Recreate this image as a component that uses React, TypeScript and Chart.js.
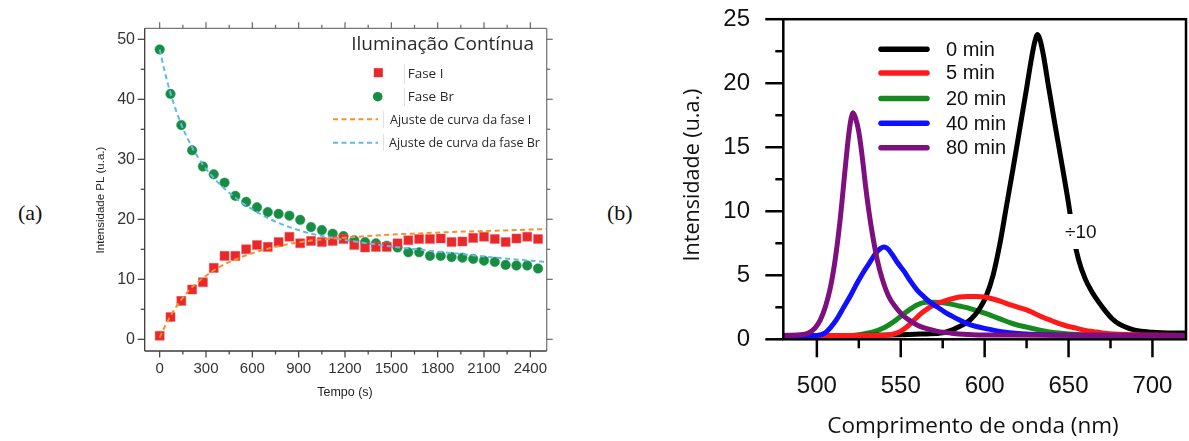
import React, { useEffect, useRef } from 'react';
import { Chart, registerables } from 'chart.js';

Chart.register(...registerables);

// ================= Panel (a): Iluminação Contínua =================
const tempo = [0, 70, 140, 210, 280, 350, 420, 490, 560, 630, 700, 770, 840, 910, 980, 1050, 1120, 1190, 1260, 1330, 1400, 1470, 1540, 1610, 1680, 1750, 1820, 1890, 1960, 2030, 2100, 2170, 2240, 2310, 2380, 2450];
const faseI = [0.6, 3.7, 6.4, 8.3, 9.5, 11.9, 13.9, 13.9, 15.0, 15.7, 15.4, 16.2, 17.1, 16.0, 16.4, 16.2, 16.4, 16.7, 15.7, 15.3, 15.4, 15.4, 16.0, 16.5, 16.7, 16.7, 16.8, 16.2, 16.3, 16.9, 17.1, 16.7, 16.2, 16.8, 17.1, 16.7];
const faseBr = [48.3, 40.9, 35.7, 31.5, 28.8, 27.5, 26.1, 23.9, 22.9, 22.0, 21.2, 20.9, 20.6, 19.9, 18.7, 18.2, 17.6, 17.2, 16.5, 16.2, 16.0, 15.6, 15.3, 14.5, 14.5, 13.9, 13.9, 13.7, 13.6, 13.4, 13.1, 12.9, 12.4, 12.3, 12.3, 11.8];
const ajusteTempo = [0, 35, 70, 140, 210, 280, 350, 420, 490, 560, 630, 700, 840, 980, 1120, 1260, 1400, 1540, 1680, 1820, 1960, 2100, 2240, 2380, 2506];
const ajusteFaseI = [0.3, 2.2, 3.9, 6.6, 8.7, 10.2, 11.5, 12.5, 13.3, 14.0, 14.6, 15.1, 15.9, 16.45, 16.8, 17.05, 17.3, 17.5, 17.65, 17.8, 17.95, 18.05, 18.15, 18.27, 18.4];
const ajusteFaseBr = [48.3, 44.4, 41.0, 35.8, 32.0, 29.1, 26.9, 25.1, 23.6, 22.3, 21.2, 20.2, 18.7, 17.6, 16.9, 16.3, 15.8, 15.35, 14.95, 14.55, 14.2, 13.8, 13.45, 13.15, 12.9];
const tempoTicks = [0, 300, 600, 900, 1200, 1500, 1800, 2100, 2400];
const intensidadeTicksA = [0, 10, 20, 30, 40, 50];

// ================= Panel (b): spectra =================
const wl0 = [480, 520, 550, 565, 575, 585, 592, 597, 601, 605, 609, 613, 617, 621, 625, 628, 630, 631.5, 633, 635, 638, 642, 646, 650, 653, 656, 660, 664, 668, 672, 676, 680, 686, 692, 700, 710, 720];
const int0 = [0.3, 0.3, 0.35, 0.42, 0.5, 1.0, 1.6, 2.4, 3.4, 5.0, 7.4, 10.4, 13.4, 16.5, 19.6, 22.0, 23.3, 23.8, 23.4, 22.2, 19.8, 16.7, 13.7, 10.6, 8.0, 6.2, 4.7, 3.7, 2.9, 2.2, 1.6, 1.2, 0.85, 0.65, 0.55, 0.5, 0.5];
const wl5 = [480, 540, 548, 553, 558, 562, 566, 570, 575, 580, 585, 590, 595, 600, 605, 610, 615, 620, 625, 630, 635, 640, 645, 650, 655, 660, 665, 670, 680, 690, 720];
const int5 = [0.3, 0.3, 0.5, 0.9, 1.5, 2.0, 2.4, 2.7, 2.95, 3.15, 3.3, 3.35, 3.35, 3.3, 3.15, 2.95, 2.7, 2.5, 2.3, 2.0, 1.7, 1.45, 1.2, 1.0, 0.85, 0.7, 0.6, 0.5, 0.4, 0.35, 0.3];
const wl20 = [480, 520, 527, 533, 540, 545, 550, 555, 560, 565, 570, 575, 580, 585, 590, 595, 600, 605, 610, 615, 620, 625, 630, 640, 650, 660, 720];
const int20 = [0.3, 0.3, 0.4, 0.55, 0.9, 1.3, 1.8, 2.3, 2.7, 2.9, 2.9, 2.85, 2.75, 2.6, 2.45, 2.25, 2.05, 1.8, 1.55, 1.3, 1.1, 0.95, 0.8, 0.55, 0.42, 0.35, 0.3];
const wl40 = [480, 500, 505, 508, 512, 516, 520, 524, 528, 532, 535, 538, 540, 542, 545, 548, 552, 556, 560, 564, 568, 572, 576, 580, 585, 590, 595, 600, 610, 620, 630, 650, 720];
const int40 = [0.3, 0.3, 0.5, 0.9, 1.6, 2.5, 3.4, 4.4, 5.3, 6.1, 6.7, 7.1, 7.2, 7.1, 6.6, 6.0, 5.3, 4.5, 3.8, 3.3, 2.85, 2.5, 2.15, 1.85, 1.5, 1.2, 1.0, 0.85, 0.6, 0.45, 0.38, 0.32, 0.3];
const wl80 = [480, 490, 495, 499, 502, 505, 508, 511, 514, 517, 519, 520.5, 521.5, 523, 525, 527, 529, 531, 533, 536, 539, 543, 547, 551, 555, 560, 565, 572, 580, 590, 600, 720];
const int80 = [0.3, 0.35, 0.5, 0.9, 1.5, 2.5, 4.0, 6.3, 9.5, 13.5, 16.0, 17.3, 17.7, 17.3, 16.2, 14.3, 12.0, 10.0, 8.3, 6.2, 4.7, 3.3, 2.5, 1.9, 1.5, 1.1, 0.85, 0.62, 0.48, 0.38, 0.33, 0.3];
const seriesLabelsB = ['0 min', '5 min', '20 min', '40 min', '80 min'];
const seriesColorsB = ['#000000', '#ff1a1a', '#178a1f', '#1010ff', '#7d0f7f'];
const comprimentoTicks = [500, 550, 600, 650, 700];
const intensidadeTicksB = [0, 5, 10, 15, 20, 25];

const H = 441;
const A_LEFT = 60, A_W = 530;
const B_LEFT = 650, B_W = 539;

const pts = (xs: number[], ys: number[]) => xs.map((x, i) => ({ x, y: ys[i] }));
const mids = (arr: number[]) => arr.slice(0, -1).map((v, i) => (v + arr[i + 1]) / 2);
const plain = (v: any) => String(v);

function seg(ctx: CanvasRenderingContext2D, x1: number, y1: number, x2: number, y2: number) {
  ctx.beginPath();
  ctx.moveTo(x1, y1);
  ctx.lineTo(x2, y2);
  ctx.stroke();
}

const panelAPlugin = {
  id: 'panelADecor',
  afterDraw(chart: any) {
    const ctx: CanvasRenderingContext2D = chart.ctx;
    const { left, right, top, bottom } = chart.chartArea;
    const xs = chart.scales.x, ys = chart.scales.y;
    const P = (px: number) => px - A_LEFT;
    ctx.save();
    // frame
    ctx.lineWidth = 1.3;
    ctx.strokeStyle = '#7a7a7a';
    seg(ctx, left, top, right, top);
    seg(ctx, right, top, right, bottom);
    ctx.strokeStyle = '#3a3a3a';
    seg(ctx, left, top, left, bottom);
    seg(ctx, left, bottom, right, bottom);
    // ticks
    ctx.lineWidth = 1.2;
    tempoTicks.forEach(v => {
      const p = xs.getPixelForValue(v);
      ctx.strokeStyle = '#3a3a3a'; seg(ctx, p, bottom, p, bottom + 6.5);
      ctx.strokeStyle = '#666'; seg(ctx, p, top, p, top - 6);
    });
    mids(tempoTicks).forEach(v => {
      const p = xs.getPixelForValue(v);
      ctx.strokeStyle = '#3a3a3a'; seg(ctx, p, bottom, p, bottom + 3.5);
      ctx.strokeStyle = '#666'; seg(ctx, p, top, p, top - 3.5);
    });
    intensidadeTicksA.forEach(v => {
      const p = ys.getPixelForValue(v);
      ctx.strokeStyle = '#3a3a3a'; seg(ctx, left, p, left - 7, p);
      ctx.strokeStyle = '#666'; seg(ctx, right, p, right + 6, p);
    });
    mids(intensidadeTicksA).forEach(v => {
      const p = ys.getPixelForValue(v);
      ctx.strokeStyle = '#3a3a3a'; seg(ctx, left, p, left - 4, p);
      ctx.strokeStyle = '#666'; seg(ctx, right, p, right + 3.5, p);
    });
    // axis titles
    ctx.fillStyle = '#222';
    ctx.font = '12.5px "Liberation Sans", Arial, sans-serif';
    ctx.textAlign = 'center';
    ctx.textBaseline = 'middle';
    ctx.fillText('Tempo (s)', P(345), 392.7);
    ctx.save();
    ctx.translate(P(101), 200);
    ctx.rotate(-Math.PI / 2);
    ctx.font = '11.5px "Liberation Sans", Arial, sans-serif';
    ctx.fillText('Intensidade PL (u.a.)', 0, 0);
    ctx.restore();
    // legend
    ctx.fillStyle = '#2a2a2a';
    ctx.font = '19px "Open Sans", sans-serif';
    ctx.textAlign = 'right';
    ctx.fillText('Iluminação Contínua', P(534), 45);
    ctx.textAlign = 'left';
    ctx.strokeStyle = '#e2e2e2';
    ctx.lineWidth = 1;
    seg(ctx, P(404.5), 64, P(404.5), 84);
    seg(ctx, P(404.5), 88, P(404.5), 106);
    seg(ctx, P(383.5), 111, P(383.5), 128);
    seg(ctx, P(383.5), 134, P(383.5), 151);
    ctx.fillStyle = '#e8282b';
    ctx.fillRect(P(378.3) - 4.5, 72.7 - 4.5, 9, 9);
    ctx.fillStyle = '#178c43';
    ctx.beginPath();
    ctx.arc(P(377.7), 96.7, 4.8, 0, Math.PI * 2);
    ctx.fill();
    ctx.fillStyle = '#2a2a2a';
    ctx.font = '13.5px "Open Sans", sans-serif';
    ctx.fillText('Fase I', P(407.7), 74);
    ctx.fillText('Fase Br', P(407.7), 97.5);
    ctx.font = '12.5px "Open Sans", sans-serif';
    ctx.fillText('Ajuste de curva da fase I', P(390), 120);
    ctx.fillText('Ajuste de curva da fase Br', P(389), 143.5);
    ctx.lineWidth = 2;
    ctx.setLineDash([5, 3.5]);
    ctx.strokeStyle = '#f5922a';
    seg(ctx, P(333), 119.3, P(378), 119.3);
    ctx.strokeStyle = '#62b9e8';
    seg(ctx, P(333), 142.7, P(378), 142.7);
    ctx.restore();
  },
};

const panelBPlugin = {
  id: 'panelBDecor',
  afterDraw(chart: any) {
    const ctx: CanvasRenderingContext2D = chart.ctx;
    const { left, right, top, bottom } = chart.chartArea;
    const xs = chart.scales.x, ys = chart.scales.y;
    const P = (px: number) => px - B_LEFT;
    ctx.save();
    // annotation ÷10 with gap in line
    ctx.fillStyle = '#ffffff';
    ctx.fillRect(P(1062), 214, 41, 35);
    ctx.fillStyle = '#111';
    ctx.font = '19px "Liberation Sans", Arial, sans-serif';
    ctx.textAlign = 'left';
    ctx.textBaseline = 'middle';
    ctx.fillText('÷10', P(1065), 232.5);
    // frame
    ctx.strokeStyle = '#000';
    ctx.lineWidth = 2.5;
    ctx.strokeRect(left, top, right - left, bottom - top);
    // ticks
    comprimentoTicks.forEach(v => {
      const p = xs.getPixelForValue(v);
      seg(ctx, p, bottom, p, bottom + 18);
    });
    mids(comprimentoTicks).forEach(v => {
      const p = xs.getPixelForValue(v);
      seg(ctx, p, bottom, p, bottom + 9);
    });
    intensidadeTicksB.forEach(v => {
      const p = ys.getPixelForValue(v);
      seg(ctx, left, p, left - 18, p);
    });
    mids(intensidadeTicksB).forEach(v => {
      const p = ys.getPixelForValue(v);
      seg(ctx, left, p, left - 8, p);
    });
    // legend
    const ly = [49.3, 72.9, 98.6, 123.2, 147.7];
    ctx.lineCap = 'round';
    ctx.lineWidth = 5.5;
    ctx.font = '20px "Liberation Sans", Arial, sans-serif';
    seriesLabelsB.forEach((lab, i) => {
      ctx.strokeStyle = seriesColorsB[i];
      seg(ctx, P(881), ly[i], P(927), ly[i]);
      ctx.fillStyle = '#111';
      ctx.fillText(lab, P(946), ly[i] + 1);
    });
    // axis titles
    ctx.fillStyle = '#111';
    ctx.font = '22.5px "Open Sans", sans-serif';
    ctx.textAlign = 'center';
    ctx.fillText('Comprimento de onda (nm)', P(973), 426.5);
    ctx.save();
    ctx.translate(P(693), 175);
    ctx.rotate(-Math.PI / 2);
    ctx.font = '21.5px "Open Sans", sans-serif';
    ctx.fillText('Intensidade (u.a.)', 0, 0);
    ctx.restore();
    ctx.restore();
  },
};

function configA(): any {
  return {
    type: 'line',
    data: {
      datasets: [
        { label: 'Ajuste de curva da fase I', data: pts(ajusteTempo, ajusteFaseI), borderColor: '#f5922a', borderWidth: 2, borderDash: [5, 3.5], pointRadius: 0, cubicInterpolationMode: 'monotone', tension: 0.4, order: 0 },
        { label: 'Ajuste de curva da fase Br', data: pts(ajusteTempo, ajusteFaseBr), borderColor: '#62b9e8', borderWidth: 2, borderDash: [5, 3.5], pointRadius: 0, cubicInterpolationMode: 'monotone', tension: 0.4, order: 0 },
        { label: 'Fase I', data: pts(tempo, faseI), showLine: false, pointStyle: 'rect', pointRadius: 6.4, backgroundColor: '#e8282b', borderColor: '#f05a5c', borderWidth: 0.5, order: 1 },
        { label: 'Fase Br', data: pts(tempo, faseBr), showLine: false, pointStyle: 'circle', pointRadius: 4.8, backgroundColor: '#178c43', borderColor: '#2a9a55', borderWidth: 0.5, order: 1 },
      ],
    },
    options: {
      animation: false,
      responsive: false,
      devicePixelRatio: 1,
      events: [],
      layout: { autoPadding: false, padding: { left: 0, top: 28.3, right: A_W - (546.7 - A_LEFT), bottom: 0 } },
      plugins: { legend: { display: false }, tooltip: { enabled: false } },
      scales: {
        x: {
          type: 'linear', min: -97, max: 2506,
          grid: { display: false, drawTicks: true, tickLength: 9.3 }, border: { display: false },
          afterBuildTicks: (s: any) => { s.ticks = tempoTicks.map(v => ({ value: v })); },
          afterFit: (s: any) => { s.height = H - 351; },
          ticks: { padding: 0, maxRotation: 0, autoSkip: false, callback: plain, color: '#333', font: { family: '"Liberation Sans", Arial, sans-serif', size: 15 } },
        },
        y: {
          type: 'linear', min: -1.95, max: 51.83,
          grid: { display: false, drawTicks: true, tickLength: 9.7 }, border: { display: false },
          afterBuildTicks: (s: any) => { s.ticks = intensidadeTicksA.map(v => ({ value: v })); },
          afterFit: (s: any) => { s.width = 144.7 - A_LEFT; },
          ticks: { padding: 0, autoSkip: false, callback: plain, color: '#333', font: { family: '"Liberation Sans", Arial, sans-serif', size: 16 } },
        },
      },
    },
    plugins: [panelAPlugin],
  };
}

function configB(): any {
  const wls = [wl0, wl5, wl20, wl40, wl80];
  const ints = [int0, int5, int20, int40, int80];
  const drawOrder = [3, 2, 4, 1, 0];
  return {
    type: 'line',
    data: {
      datasets: seriesLabelsB.map((lab, i) => ({
        label: lab,
        data: pts(wls[i], ints[i]),
        borderColor: seriesColorsB[i],
        borderWidth: 5,
        borderCapStyle: 'round',
        borderJoinStyle: 'round',
        pointRadius: 0,
        cubicInterpolationMode: 'monotone',
        tension: 0.4,
        order: drawOrder[i],
      })),
    },
    options: {
      animation: false,
      responsive: false,
      devicePixelRatio: 1,
      events: [],
      layout: { autoPadding: false, padding: { left: 0, top: 19.2, right: B_W - (1186 - B_LEFT), bottom: 0 } },
      plugins: { legend: { display: false }, tooltip: { enabled: false } },
      scales: {
        x: {
          type: 'linear', min: 480, max: 720,
          grid: { display: false, drawTicks: true, tickLength: 32.3 }, border: { display: false },
          afterBuildTicks: (s: any) => { s.ticks = comprimentoTicks.map(v => ({ value: v })); },
          afterFit: (s: any) => { s.height = H - 339.3; },
          ticks: { padding: 0, maxRotation: 0, autoSkip: false, callback: plain, color: '#111', font: { family: '"Liberation Sans", Arial, sans-serif', size: 24 } },
        },
        y: {
          type: 'linear', min: 0, max: 25,
          grid: { display: false, drawTicks: true, tickLength: 33.3 }, border: { display: false },
          afterBuildTicks: (s: any) => { s.ticks = intensidadeTicksB.map(v => ({ value: v })); },
          afterFit: (s: any) => { s.width = 783.3 - B_LEFT; },
          ticks: { padding: 0, autoSkip: false, callback: plain, color: '#111', font: { family: '"Liberation Sans", Arial, sans-serif', size: 24 } },
        },
      },
    },
    plugins: [panelBPlugin],
  };
}

function ChartCanvas({ makeConfig, left, width }: { makeConfig: () => any; left: number; width: number }) {
  const ref = useRef<HTMLCanvasElement>(null);
  useEffect(() => {
    const chart = new Chart(ref.current as HTMLCanvasElement, makeConfig());
    return () => chart.destroy();
  }, [makeConfig]);
  return (
    <canvas
      ref={ref}
      width={width}
      height={H}
      style={{ position: 'absolute', left, top: 0, width, height: H }}
    />
  );
}

export default function App() {
  const labelStyle: React.CSSProperties = {
    position: 'absolute',
    fontFamily: '"Liberation Serif", "Times New Roman", serif',
    fontSize: 22,
    lineHeight: '22px',
    color: '#111',
  };
  return (
    <div style={{ position: 'absolute', left: 0, top: 0, width: 1189, height: H, background: '#fff', overflow: 'hidden' }}>
      <div style={{ ...labelStyle, left: 18, top: 202 }}>(a)</div>
      <div style={{ ...labelStyle, left: 607, top: 202 }}>(b)</div>
      <ChartCanvas makeConfig={configA} left={A_LEFT} width={A_W} />
      <ChartCanvas makeConfig={configB} left={B_LEFT} width={B_W} />
    </div>
  );
}
